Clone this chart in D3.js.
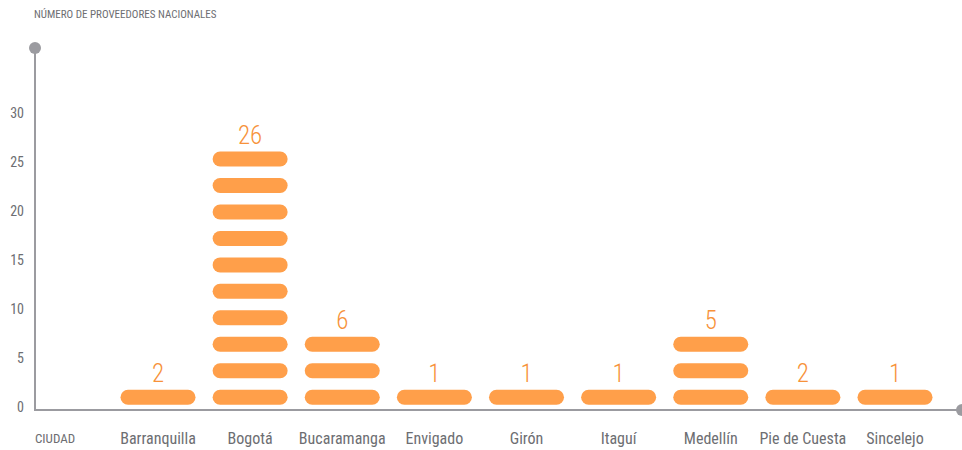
<!DOCTYPE html>
<html>
<head>
<meta charset="utf-8">
<script src="https://cdn.jsdelivr.net/npm/d3@7"></script>
<style>
  html, body { margin: 0; padding: 0; background: #ffffff; }
  svg { display: block; font-family: "Liberation Sans Narrow", "Roboto Condensed", "Liberation Sans", sans-serif; }
</style>
</head>
<body>
<svg id="chart" width="962" height="450"></svg>
<script>
const cities = ["Barranquilla", "Bogotá", "Bucaramanga", "Envigado", "Girón", "Itaguí", "Medellín", "Pie de Cuesta", "Sincelejo"];
const values = [2, 26, 6, 1, 1, 1, 5, 2, 1];
const iconCounts = [1, 10, 3, 1, 1, 1, 3, 1, 1];
const yTicks = [0, 5, 10, 15, 20, 25, 30];
const title = "NÚMERO DE PROVEEDORES NACIONALES";
const xTitle = "CIUDAD";

const svg = d3.select("#chart");
const gray = "#9b9ba0";
const textGray = "#6d6e72";
const orange = "#ff9f4a";
const orangeText = "#f7923a";

const axisX = 35, axisY = 410;
const x = d3.scalePoint().domain(cities).range([158, 895]);
const y = d3.scaleLinear().domain([0, 30]).range([407, 113]);
const pillBase = 1, pillStep = 2.7;
const pillW = 75, pillH = 15;

// title
svg.append("text").attr("x", 34).attr("y", 18)
  .attr("font-size", 11).attr("fill", textGray).text(title);

// axes
svg.append("line").attr("x1", axisX).attr("x2", axisX).attr("y1", 48).attr("y2", axisY)
  .attr("stroke", gray).attr("stroke-width", 2);
svg.append("line").attr("x1", axisX - 1).attr("x2", 962).attr("y1", axisY).attr("y2", axisY)
  .attr("stroke", gray).attr("stroke-width", 2);
svg.append("circle").attr("cx", axisX).attr("cy", 48).attr("r", 6).attr("fill", gray);
svg.append("circle").attr("cx", 962).attr("cy", axisY).attr("r", 6).attr("fill", gray);

// y tick labels
svg.append("g").selectAll("text").data(yTicks).join("text")
  .attr("x", 24).attr("y", d => y(d) + 5)
  .attr("text-anchor", "end").attr("font-size", 14).attr("fill", textGray)
  .text(d => d);

// x labels
svg.append("text").attr("x", 35).attr("y", 443)
  .attr("font-size", 13).attr("fill", textGray).text(xTitle);
svg.append("g").selectAll("text").data(cities).join("text")
  .attr("x", d => x(d)).attr("y", 444)
  .attr("text-anchor", "middle").attr("font-size", 16).attr("fill", textGray)
  .text(d => d);

// pills
const data = cities.map((c, i) => ({ city: c, value: values[i], n: iconCounts[i] }));
const groups = svg.append("g").selectAll("g").data(data).join("g");
groups.selectAll("rect").data(d => d3.range(d.n).map(k => ({ city: d.city, k }))).join("rect")
  .attr("x", d => x(d.city) - pillW / 2)
  .attr("y", d => y(pillBase + pillStep * d.k) - pillH / 2)
  .attr("width", pillW).attr("height", pillH)
  .attr("rx", pillH / 2).attr("ry", pillH / 2)
  .attr("fill", orange);

// value labels
groups.append("text")
  .attr("x", d => x(d.city))
  .attr("y", d => y(pillBase + pillStep * (d.n - 1)) - pillH / 2 - 8)
  .attr("text-anchor", "middle").attr("font-size", 25).attr("font-weight", 300).attr("fill", orangeText)
  .text(d => d.value);
</script>
</body>
</html>
